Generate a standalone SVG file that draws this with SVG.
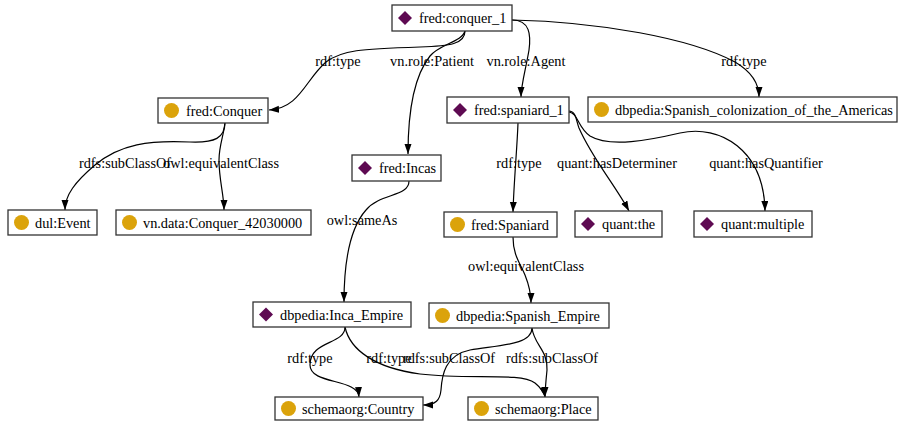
<svg xmlns="http://www.w3.org/2000/svg" width="899" height="422" viewBox="0 0 899 422">
<defs>
<style>
.box{fill:#fff;stroke:#333;stroke-width:1.3}
.t{font-family:"Liberation Serif","Times New Roman",serif;font-size:14.3px;fill:#000}
.l{font-family:"Liberation Serif","Times New Roman",serif;font-size:14.3px;fill:#000;text-anchor:middle}
.e{fill:none;stroke:#000;stroke-width:1.2;marker-end:url(#ah)}
.dia{fill:#5e0a52}
.cir{fill:#dba30b}
</style>
<marker id="ah" markerWidth="10" markerHeight="8" refX="10" refY="3.5" orient="auto" markerUnits="userSpaceOnUse">
<path d="M0,0 L10,3.5 L0,7 z" fill="#000"/>
</marker>
<path id="d" d="M0,-7 L7,0 L0,7 L-7,0 z"/>
</defs>
<rect width="899" height="422" fill="#fff"/>
<g id="edges">
<path class="e" d="M465,31 C465,44 450,46 420,47 C360,49 342,50 326,62 C305,80 300,108 269,110"/>
<path class="e" d="M465,31 C462,42 440,44 430,56 C414,76 408,110 408,154"/>
<path class="e" d="M512,20 C530,20 531,35 529,50 C526,68 521,85 521,97"/>
<path class="e" d="M512,20 C600,22 690,38 735,62 C752,72 759,85 759,97"/>
<path class="e" d="M225,122 C225,138 215,143 190,142 C150,140 120,144 95,165 C75,182 65,195 65,210"/>
<path class="e" d="M225,122 C224,135 219,145 219,160 C219,180 224,195 224,210"/>
<path class="e" d="M409,181 C409,197 380,193 366,210 C350,228 344,260 344,302"/>
<path class="e" d="M518,123 C517,150 514,180 513,212"/>
<path class="e" d="M569,111 C576,111 576,120 579,128 C592,158 615,185 629,211"/>
<path class="e" d="M569,112 C578,113 578,128 590,136 C610,148 650,140 680,133 C720,124 764,150 765,211"/>
<path class="e" d="M513,237 C513,255 520,263 525,275 C529,285 531,292 531,303"/>
<path class="e" d="M345,327 C345,345 310,340 310,365 C310,385 358,378 359,397"/>
<path class="e" d="M345,327 C350,350 375,368 420,374 C470,380 520,372 535,383 C541,388 544,392 545,397"/>
<path class="e" d="M532,328 C532,345 500,345 470,350 C445,355 442,375 441,390 C440,400 436,405 423,405"/>
<path class="e" d="M532,328 C534,345 548,350 547,370 C546,380 545,390 545,397"/>
<text class="l" x="338" y="66">rdf:type</text>
<text class="l" x="432" y="66">vn.role:Patient</text>
<text class="l" x="526" y="66">vn.role:Agent</text>
<text class="l" x="744" y="66">rdf:type</text>
<text class="l" x="125" y="168">rdfs:subClassOf</text>
<text class="l" x="221" y="168">owl:equivalentClass</text>
<text class="l" x="362" y="225">owl:sameAs</text>
<text class="l" x="519" y="168">rdf:type</text>
<text class="l" x="617" y="168">quant:hasDeterminer</text>
<text class="l" x="766" y="168">quant:hasQuantifier</text>
<text class="l" x="526" y="271">owl:equivalentClass</text>
<text class="l" x="310" y="363">rdf:type</text>
<text class="l" x="389" y="363">rdf:type</text>
<text class="l" x="449" y="363">rdfs:subClassOf</text>
<text class="l" x="552" y="363">rdfs:subClassOf</text>
</g>
<g id="conquer_1"><rect class="box" x="392" y="5" width="120" height="26"/><use href="#d" class="dia" x="405" y="18"/><text class="t" x="419" y="23">fred:conquer_1</text></g>
<g id="Conquer"><rect class="box" x="158" y="98" width="110" height="25"/><circle class="cir" cx="171.5" cy="110.5" r="7.5"/><text class="t" x="186" y="115.5">fred:Conquer</text></g>
<g id="spaniard_1"><rect class="box" x="447" y="97" width="122" height="26"/><use href="#d" class="dia" x="460" y="110"/><text class="t" x="474" y="115">fred:spaniard_1</text></g>
<g id="colonization"><rect class="box" x="588" y="97" width="309" height="25"/><circle class="cir" cx="601.5" cy="109.5" r="7.5"/><text class="t" x="615" y="114.5">dbpedia:Spanish_colonization_of_the_Americas</text></g>
<g id="Event"><rect class="box" x="8" y="210" width="89" height="25"/><circle class="cir" cx="21.5" cy="222.5" r="7.5"/><text class="t" x="35" y="227.5">dul:Event</text></g>
<g id="Conquer_42030000"><rect class="box" x="116" y="210" width="195" height="25"/><circle class="cir" cx="129.5" cy="222.5" r="7.5"/><text class="t" x="143" y="227.5">vn.data:Conquer_42030000</text></g>
<g id="Incas"><rect class="box" x="352" y="155" width="89" height="26"/><use href="#d" class="dia" x="365" y="168"/><text class="t" x="379" y="173">fred:Incas</text></g>
<g id="Spaniard"><rect class="box" x="444" y="212" width="113" height="25"/><circle class="cir" cx="457.5" cy="224.5" r="7.5"/><text class="t" x="471" y="229.5">fred:Spaniard</text></g>
<g id="the"><rect class="box" x="575" y="211" width="87" height="26"/><use href="#d" class="dia" x="588" y="224"/><text class="t" x="602" y="229">quant:the</text></g>
<g id="multiple"><rect class="box" x="694" y="211" width="118" height="26"/><use href="#d" class="dia" x="707" y="224"/><text class="t" x="721" y="229">quant:multiple</text></g>
<g id="Inca_Empire"><rect class="box" x="253" y="302" width="158" height="25"/><use href="#d" class="dia" x="266" y="314.5"/><text class="t" x="280" y="319.5">dbpedia:Inca_Empire</text></g>
<g id="Spanish_Empire"><rect class="box" x="429" y="303" width="180" height="25"/><circle class="cir" cx="442.5" cy="315.5" r="7.5"/><text class="t" x="456" y="320.5">dbpedia:Spanish_Empire</text></g>
<g id="Country"><rect class="box" x="275" y="397" width="148" height="23"/><circle class="cir" cx="288.5" cy="408.5" r="7.5"/><text class="t" x="302" y="413.5">schemaorg:Country</text></g>
<g id="Place"><rect class="box" x="468" y="397" width="130" height="23"/><circle class="cir" cx="481.5" cy="408.5" r="7.5"/><text class="t" x="495" y="413.5">schemaorg:Place</text></g>
</svg>
